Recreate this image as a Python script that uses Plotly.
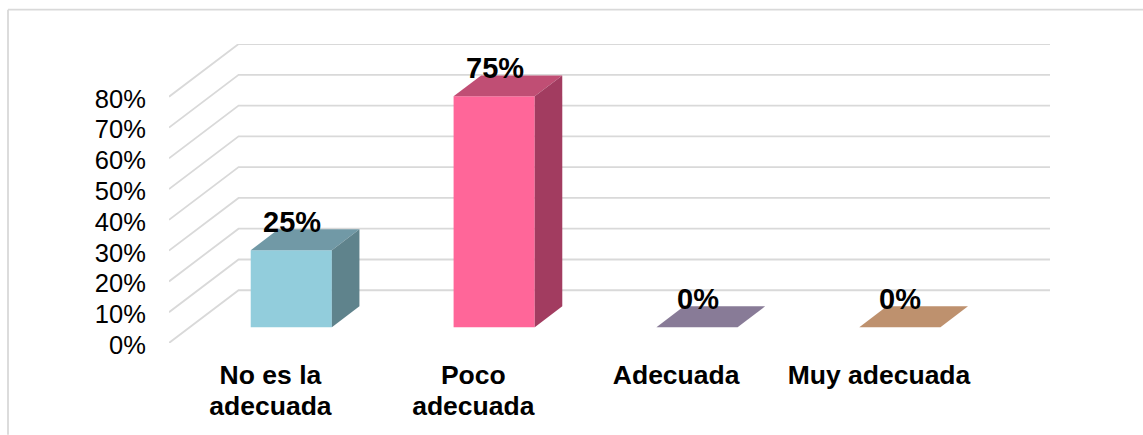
import plotly.graph_objects as go

categories = ["No es la<br>adecuada", "Poco<br>adecuada", "Adecuada", "Muy adecuada"]
values = [25, 75, 0, 0]
value_labels = ["25%", "75%", "0%", "0%"]
y_ticks = [0, 10, 20, 30, 40, 50, 60, 70, 80]
y_tick_labels = ["0%", "10%", "20%", "30%", "40%", "50%", "60%", "70%", "80%"]
front_colors = ["#92CDDC", "#FF6699", "#8A7C99", "#BE916E"]
top_colors = ["#7199A6", "#C04E74", "#887B97", "#BE916E"]
side_colors = ["#5F838C", "#A23C60", "#8A7C99", "#BE916E"]

W, H = 1143, 435
L, R, T, B = 169, 1050, 44.3, 343.3
DX, DY = 0.343, 17.13          # full floor depth in axis units
D_FRONT, D_BACK = 0.30, 0.696  # bar depth position on the floor
HALF = 0.2
FONT = "Liberation Sans, Arial, sans-serif"
GRID = "#D9D9D9"
xs = list(range(len(categories)))


def proj(x, v, d):
    return x + d * DX, v + d * DY


fig = go.Figure()

# Front faces
fig.add_trace(go.Bar(
    x=[proj(x, 0, D_FRONT)[0] for x in xs], y=values,
    base=[D_FRONT * DY] * len(xs), width=HALF * 2,
    marker=dict(color=front_colors, line_width=0),
    hoverinfo="skip", showlegend=False))

# Top and side faces
for x, v, tc, sc in zip(xs, values, top_colors, side_colors):
    corners = [(x - HALF, v, D_FRONT), (x + HALF, v, D_FRONT), (x + HALF, v, D_BACK), (x - HALF, v, D_BACK)]
    pts = [proj(*c) for c in corners]
    fig.add_trace(go.Scatter(
        x=[p[0] for p in pts] + [pts[0][0]], y=[p[1] for p in pts] + [pts[0][1]],
        mode="lines", fill="toself", fillcolor=tc, line=dict(width=0),
        hoverinfo="skip", showlegend=False))
    if v > 0:
        corners = [(x + HALF, 0, D_FRONT), (x + HALF, 0, D_BACK), (x + HALF, v, D_BACK), (x + HALF, v, D_FRONT)]
        pts = [proj(*c) for c in corners]
        fig.add_trace(go.Scatter(
            x=[p[0] for p in pts] + [pts[0][0]], y=[p[1] for p in pts] + [pts[0][1]],
            mode="lines", fill="toself", fillcolor=sc, line=dict(width=0),
            hoverinfo="skip", showlegend=False))

# Gridlines on the side wall and back wall
x0, x1 = -0.5, 3.5
shapes = []
for v in y_ticks:
    path = "M %f %f L %f %f L %f %f" % (x0, v, x0 + DX, v + DY, x1 + DX, v + DY)
    shapes.append(dict(type="path", path=path, xref="x", yref="y", layer="below",
                       line=dict(color=GRID, width=1.8)))

# Outer frame (top and left edges)
px = lambda p: (p - L) / (R - L)
py = lambda p: (B - p) / (B - T)
for a, b, c, d in [(8, 10, W, 10), (8, 10, 8, H)]:
    shapes.append(dict(type="line", xref="paper", yref="paper", x0=px(a), y0=py(b), x1=px(c), y1=py(d),
                       line=dict(color="#D9D9D9", width=1.8)))

annotations = [
    dict(x=proj(x, 0, D_FRONT)[0], y=v + D_FRONT * DY, text="<b>%s</b>" % t, showarrow=False,
         yanchor="middle", xanchor="center", yshift=28, xshift=0.5,
         font=dict(family=FONT, size=29, color="black"))
    for x, v, t in zip(xs, values, value_labels)
]

cat_style = '<span style="font-size:26.5px"><b>%s</b></span>'
fig.update_layout(
    width=W, height=H, autosize=False,
    margin=dict(l=L, r=W - R, t=T, b=H - B, pad=0),
    paper_bgcolor="white", plot_bgcolor="white",
    showlegend=False, shapes=shapes, annotations=annotations,
    xaxis=dict(range=[x0, x1 + DX], tickmode="array", tickvals=xs, automargin=False,
               ticktext=["<br>".join(cat_style % part for part in c.split("<br>")) for c in categories],
               showgrid=False, zeroline=False, showline=False,
               ticks="outside", ticklen=11, tickcolor="rgba(0,0,0,0)",
               tickfont=dict(family=FONT, size=24, color="black")),
    yaxis=dict(range=[0, 80 + DY], tickmode="array", tickvals=y_ticks, ticktext=y_tick_labels,
               showgrid=False, zeroline=False, showline=False, automargin=False,
               ticks="outside", ticklen=17, tickcolor="rgba(0,0,0,0)", ticklabelshift=2,
               tickfont=dict(family=FONT, size=25.5, color="black")),
)

fig.write_html("out.html", config={"displayModeBar": False},
               post_script="document.body.style.margin='0';")
